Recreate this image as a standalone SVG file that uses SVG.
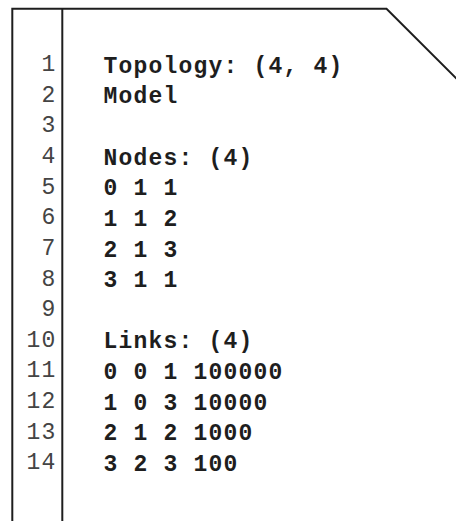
<svg xmlns="http://www.w3.org/2000/svg" width="456" height="521" viewBox="0 0 456 521">
  <style>
    .frame { fill: #ffffff; stroke: #1e1e1e; stroke-width: 2; }
    .rule { stroke: #1e1e1e; stroke-width: 2; fill: none; }
    .ln { font-family: "Liberation Mono", "Courier New", monospace; font-size: 23px; fill: #444444; text-anchor: end; letter-spacing: 1.2px; }
    .code { font-family: "Liberation Mono", "Courier New", monospace; font-size: 23px; font-weight: bold; fill: #1e1e1e; letter-spacing: 1.2px; }
  </style>

  <!-- document sheet with clipped top-right corner -->
  <g id="sheet">
    <path class="frame" d="M12.3,530 V8.7 H386.5 L480,102.2 V530 Z"/>
    <line class="rule" x1="62.3" y1="8.7" x2="62.3" y2="530"/>
  </g>

  <!-- line-number gutter -->
  <g id="line-numbers">
    <text class="ln" x="56.5" y="71">1</text>
    <text class="ln" x="56.5" y="101.6">2</text>
    <text class="ln" x="56.5" y="132.3">3</text>
    <text class="ln" x="56.5" y="162.9">4</text>
    <text class="ln" x="56.5" y="193.6">5</text>
    <text class="ln" x="56.5" y="224.2">6</text>
    <text class="ln" x="56.5" y="254.8">7</text>
    <text class="ln" x="56.5" y="285.5">8</text>
    <text class="ln" x="56.5" y="316.1">9</text>
    <text class="ln" x="56.5" y="346.8">10</text>
    <text class="ln" x="56.5" y="377.4">11</text>
    <text class="ln" x="56.5" y="408">12</text>
    <text class="ln" x="56.5" y="438.7">13</text>
    <text class="ln" x="56.5" y="469.3">14</text>
  </g>

  <!-- file contents -->
  <g id="code">
    <text class="code" x="103.5" y="73.3">Topology: (4, 4)</text>
    <text class="code" x="103.5" y="103.3">Model</text>
    <text class="code" x="103.5" y="164.6">Nodes: (4)</text>
    <text class="code" x="103.5" y="195.2">0 1 1</text>
    <text class="code" x="103.5" y="225.8">1 1 2</text>
    <text class="code" x="103.5" y="256.5">2 1 3</text>
    <text class="code" x="103.5" y="287.1">3 1 1</text>
    <text class="code" x="103.5" y="348.4">Links: (4)</text>
    <text class="code" x="103.5" y="379">0 0 1 100000</text>
    <text class="code" x="103.5" y="409.6">1 0 3 10000</text>
    <text class="code" x="103.5" y="440.3">2 1 2 1000</text>
    <text class="code" x="103.5" y="471">3 2 3 100</text>
  </g>
</svg>
